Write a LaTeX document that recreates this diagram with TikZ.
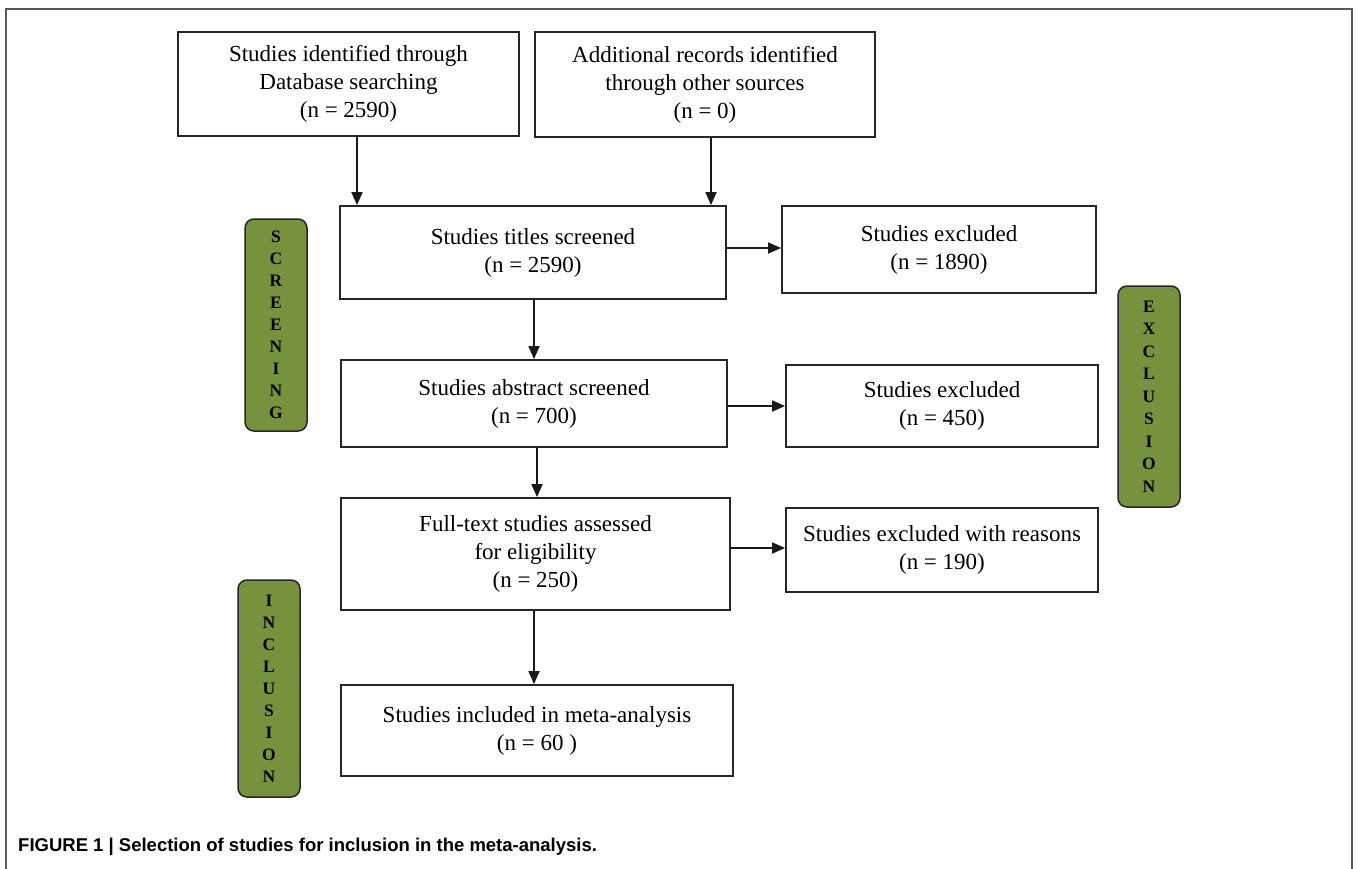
\documentclass[tikz,border=0pt]{standalone}
\usepackage{fontspec}
\setmainfont{Liberation Serif}
\newfontfamily\capfont{Liberation Sans}
\usepackage{xcolor}
\usetikzlibrary{arrows.meta, positioning, calc}

\definecolor{phasegreen}{HTML}{76923C}

\begin{document}
\begin{tikzpicture}[
  x=1pt, y=-1pt,
  box/.style={rectangle, draw=black!85, line width=1.8pt, fill=white,
              align=center, inner sep=0pt,
              font=\fontsize{23}{28}\selectfont},
  phase/.style={rectangle, rounded corners=9pt, draw=black!85, line width=1.5pt,
                fill=phasegreen, align=center, inner sep=0pt,
                minimum width=62pt, font=\bfseries\fontsize{17.5}{22}\selectfont},
  arr/.style={-{Triangle[length=13pt,width=11pt]}, line width=1.8pt, draw=black!90},
]
\useasboundingbox (0,0) rectangle (1358,868);

% outer frame (open at the bottom)
\draw[line width=1.5pt, black!65] (6,875) -- (6,9) -- (1352,9) -- (1352,875);

% Identification
\node[box, minimum width=341pt, minimum height=104pt] (db) at (348.5,84)
  {Studies identified through\\ Database searching\\ (n = 2590)};
\node[box, minimum width=340pt, minimum height=105pt] (other) at (705,84.5)
  {Additional records identified\\ through other sources\\ (n = 0)};

% Main column
\node[box, minimum width=386pt, minimum height=93pt] (titles) at (533,252.5)
  {Studies titles screened\\ (n = 2590)};
\node[box, minimum width=386pt, minimum height=87pt] (abstract) at (534,403.5)
  {Studies abstract screened\\ (n = 700)};
\node[box, minimum width=389pt, minimum height=112pt] (fulltext) at (535.5,554)
  {Full-text studies assessed\\ for eligibility\\ (n = 250)};
\node[box, minimum width=392pt, minimum height=91pt] (included) at (537,730.5)
  {Studies included in meta-analysis\\ (n = 60 )};

% Exclusions
\node[box, minimum width=314pt, minimum height=87pt] (excl1) at (939,249.5)
  {Studies excluded\\ (n = 1890)};
\node[box, minimum width=312pt, minimum height=82pt] (excl2) at (942,406)
  {Studies excluded\\ (n = 450)};
\node[box, minimum width=312pt, minimum height=84pt] (excl3) at (942,550)
  {Studies excluded with reasons\\ (n = 190)};

% Phase labels
\node[phase, minimum height=212pt] (screening) at (276,325)
  {S\\C\\R\\E\\E\\N\\I\\N\\G};
\node[phase, minimum height=221pt, font=\bfseries\fontsize{17.5}{22.5}\selectfont]
  (exclusion) at (1149,396.5) {E\\X\\C\\L\\U\\S\\I\\O\\N};
\node[phase, minimum height=217pt, font=\bfseries\fontsize{17.5}{22}\selectfont]
  (inclusion) at (269,688.5) {I\\N\\C\\L\\U\\S\\I\\O\\N};

% Arrows
\draw[arr] ([xshift=8.5pt]db.south) -- ([xshift=8.5pt]db.south |- titles.north);
\draw[arr] ([xshift=6pt]other.south) -- ([xshift=6pt]other.south |- titles.north);
\draw[arr] (titles.south -| abstract.north) -- (abstract.north);
\draw[arr] ([xshift=3pt]abstract.south) -- ([xshift=3pt]abstract.south |- fulltext.north);
\draw[arr] ([xshift=-1.5pt]fulltext.south) -- ([xshift=-1.5pt]fulltext.south |- included.north);
\draw[arr] ([yshift=1.5pt]titles.east |- excl1.west) -- ([yshift=1.5pt]excl1.west);
\draw[arr] (abstract.east |- excl2.west) -- (excl2.west);
\draw[arr] ([yshift=2pt]fulltext.east |- excl3.west) -- ([yshift=2pt]excl3.west);

% Caption
\node[anchor=west, inner sep=0pt, font=\capfont\bfseries\fontsize{18.5}{22}\selectfont]
  (caption) at (18,847) {FIGURE 1 \textbar\ Selection of studies for inclusion in the meta-analysis.};

\end{tikzpicture}
\end{document}
